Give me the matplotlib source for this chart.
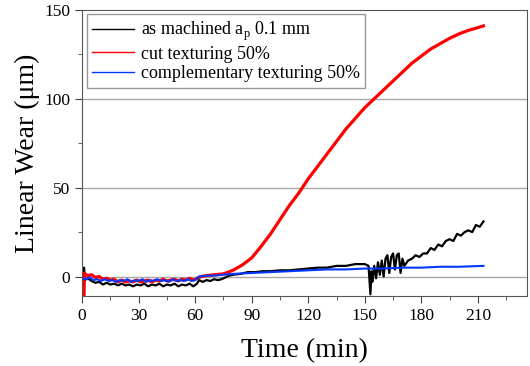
import matplotlib
matplotlib.use("Agg")
import matplotlib.pyplot as plt
from matplotlib.lines import Line2D
import numpy as np

plt.rcParams['font.family'] = ['Liberation Serif', 'DejaVu Serif']
plt.rcParams['mathtext.fontset'] = 'custom'
plt.rcParams['mathtext.rm'] = 'Liberation Serif'

# as machined ap 0.1 mm
black_t = [0.5, 1, 1.5, 3, 5, 7, 9, 11, 13, 15, 17, 19, 21, 23, 25, 27, 29, 31, 33, 35, 37, 39,
           41, 43, 45, 47, 49, 51, 53, 55, 57, 59, 61, 62, 64, 66, 68, 70, 72, 74, 76, 78, 80,
           84, 88, 92, 96, 100, 105, 110, 115, 120, 125, 130, 135, 140, 145, 150, 152, 153,
           153.5, 154, 155, 156, 157, 158, 159, 160, 161, 162, 163, 164, 165, 166, 167, 168,
           169, 170, 171, 173, 175, 177, 179, 181, 183, 185, 187, 189, 191, 193, 195, 197,
           199, 201, 203, 205, 207, 209, 211, 213]
black_y = [0, 5, -2, -1, -2.5, -3.5, -3, -4.5, -3.5, -4.5, -4, -5, -4, -5, -4.5, -5.5, -4.5,
           -5, -4, -5.5, -4.5, -5, -4, -5.5, -4.5, -5, -4, -5.5, -4.5, -5, -4, -5.5, -4, -2,
           -3, -2, -2.5, -1.5, -2, -1.5, -0.5, 0.5, 1, 1.5, 2.5, 2.5, 3, 3, 3.5, 3.5, 4, 4.5,
           5, 5, 6, 6, 7, 7, 6, -10, 3, -3, 6, -1, 8, 1, 9, 0, 10, 12, 2, 11, 13, 4, 12, 13,
           2, 10, 6, 9, 10, 12, 11, 13, 13, 16, 15, 18, 17, 20, 21, 20, 24, 23, 25, 26, 25,
           29, 28, 31]

# cut texturing 50%
red_t = [1, 1.2, 1.5, 3, 5, 7, 9, 11, 13, 15, 17, 19, 21, 23, 25, 27, 29, 31, 33, 35, 37, 39,
         41, 43, 45, 47, 49, 51, 53, 55, 57, 59, 61, 63, 66, 70, 75, 80, 85, 90, 95, 100, 105,
         110, 115, 120, 125, 130, 135, 140, 145, 150, 155, 160, 165, 170, 175, 180, 185, 190,
         195, 200, 205, 210, 213]
red_y = [-11, 2, 1.5, 0.5, 1, -0.5, 0, -1.5, -1, -2, -1.5, -3, -2, -3, -2.5, -3, -2, -3, -2.5,
         -2, -3, -2, -2.5, -1.5, -2.5, -2, -1.5, -2.5, -1.5, -2, -1, -2, -1, 0, 0.5, 1, 1.5,
         3.5, 6.5, 10.5, 17, 24, 32, 40, 47, 55, 62, 69, 76, 83, 89, 95, 100, 105, 110, 115,
         120, 124, 128, 131, 134, 136.5, 138.5, 140, 141]

# complementary texturing 50%
blue_t = [0.5, 2, 4, 6, 8, 10, 12, 14, 16, 18, 20, 22, 24, 26, 28, 30, 32, 34, 36, 38, 40, 42,
          44, 46, 48, 50, 52, 54, 56, 58, 60, 62, 66, 70, 75, 80, 90, 100, 110, 120, 130, 140,
          150, 160, 170, 180, 190, 200, 213]
blue_y = [-1, -1.5, -0.5, -2, -1.5, -2.5, -1.5, -2.5, -2, -3, -2, -2.5, -1.5, -3, -2, -2.5,
          -1.5, -3, -2, -2.5, -1.5, -2.5, -2, -3, -1.5, -2.5, -2, -2.5, -1.5, -2.5, -2, 0,
          0.5, 0.5, 1, 1.5, 2, 2.5, 3, 3.5, 4, 4, 4.5, 4.5, 5, 5, 5.5, 5.5, 6]

labels = ["as machined a$_{\\rm p}$ 0.1 mm", "cut texturing 50%", "complementary texturing 50%"]
colors = ["black", "#ff0000", "#0038ff"]

fig = plt.figure(figsize=(5.3, 3.66), dpi=100)
ax = fig.add_axes([0.155, 0.191, 0.839, 0.782])

ax.plot(black_t, black_y, color=colors[0], lw=1.6)
ax.plot(red_t, red_y, color=colors[1], lw=2.3)
ax.plot(blue_t, blue_y, color=colors[2], lw=1.5)

ax.set_xlim(0, 236)
ax.set_ylim(-11, 150)
ax.set_xticks(np.arange(0, 211, 30))
ax.set_xticks(np.arange(15, 236, 15), minor=True)
ax.set_yticks([0, 50, 100, 150])
ax.set_yticks([25, 75, 125], minor=True)
ax.tick_params(which='major', direction='out', length=5, labelsize=12.5, color='#444444')
ax.tick_params(which='minor', direction='out', length=3, color='#444444')
for s in ax.spines.values():
    s.set_color('#555555')

for yv in [0, 50, 100]:
    ax.axhline(yv, color='#a8a8a8', lw=1, zorder=0)

ax.set_xlabel("Time (min)", fontsize=20, labelpad=10)
ax.set_ylabel("Linear Wear (\u03bcm)", fontsize=20, labelpad=3)

handles = [Line2D([], [], color=c, lw=1) for c in colors]
leg = ax.legend(handles, labels, loc='upper left', fontsize=13, handlelength=2.3,
                labelspacing=0.15, borderpad=0.3, handletextpad=0.4, fancybox=False,
                framealpha=1, borderaxespad=0.25)
leg.get_frame().set_edgecolor('#999999')
leg.get_frame().set_linewidth(1)

fig.savefig("out.png", dpi=100)
